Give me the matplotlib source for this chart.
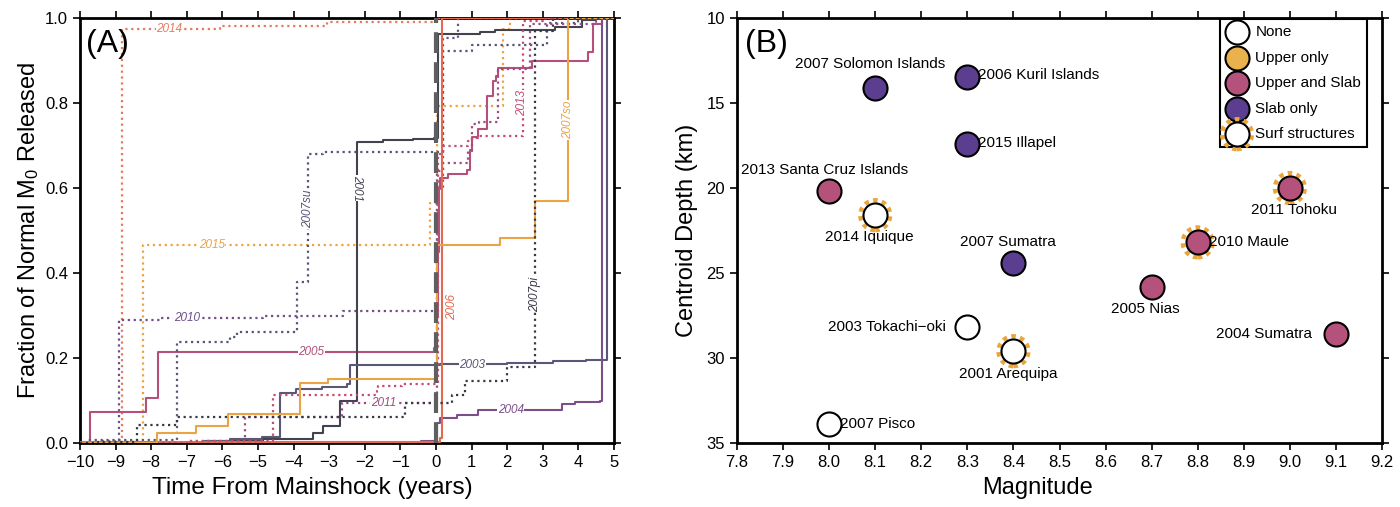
import matplotlib
matplotlib.use("Agg")
import matplotlib.pyplot as plt
from matplotlib.legend_handler import HandlerTuple

plt.rcParams['font.family'] = ['Liberation Sans', 'DejaVu Sans']
plt.rcParams['mathtext.fontset'] = 'custom'
plt.rcParams['mathtext.rm'] = 'Liberation Sans'
plt.rcParams['mathtext.it'] = 'Liberation Sans:italic'

# ---------------- Panel A data: cumulative fraction of normal M0 released ----------------
t_2014 = [-10, -8.83, -6.07, -3.07, 0.02, 5]
v_2014 = [0, 0.975, 0.981, 0.991, 1.0, 1.0]

t_2015 = [-10, -9.6, -8.24, -0.17, 0.02, 1.89, 2.08, 5]
v_2015 = [0, 0.003, 0.465, 0.565, 0.793, 0.973, 1.0, 1.0]

t_2010 = [-10, -9.5, -8.9, -7.75, -4.85, -2.6, 0.02, 0.2, 0.63, 5]
v_2010 = [0, 0.005, 0.29, 0.294, 0.30, 0.311, 0.60, 0.953, 1.0, 1.0]

t_2005 = [-10, -9.72, -8.15, -7.82, -0.05, 0.02, 0.05, 0.08, 0.11, 0.35, 0.86, 0.955,
          1.02, 1.19, 1.42, 1.61, 1.68, 1.73, 2.69, 4.28, 4.42, 4.65, 5]
v_2005 = [0, 0.072, 0.105, 0.213, 0.224, 0.30, 0.45, 0.597, 0.624, 0.634, 0.642, 0.69,
          0.72, 0.738, 0.816, 0.852, 0.864, 0.883, 0.899, 0.919, 0.985, 1.0, 1.0]

t_2007su = [-10, -9.77, -7.28, -5.79, -5.6, -3.91, -3.59, -3.17, 0.21, 1.0, 3.11, 4.0, 5]
v_2007su = [0, 0.008, 0.237, 0.25, 0.261, 0.38, 0.679, 0.684, 0.922, 0.936, 0.989, 1.0, 1.0]

t_2001 = [-10, -6.5, -4.85, -3.45, -3.17, -2.70, -2.23, -1.5, -0.66, -0.07, 0.05, 1.24,
          1.66, 3.34, 4.09, 4.5, 5]
v_2001 = [0, 0.004, 0.01, 0.024, 0.039, 0.10, 0.709, 0.713, 0.716, 0.718, 0.962, 0.967,
          0.972, 0.98, 0.995, 1.0, 1.0]

t_2003 = [-10, -6.5, -5.8, -4.9, -4.38, -3.92, -3.2, -2.5, -2.42, 0.1, 1.99, 3.29, 4.2, 4.79, 5]
v_2003 = [0, 0.005, 0.01, 0.015, 0.118, 0.127, 0.132, 0.14, 0.183, 0.186, 0.188, 0.192,
          0.195, 1.0, 1.0]

t_2011 = [-10, -7, -5.37, -2.65, 0.02, 0.2, 0.9, 1.0, 1.2, 1.75, 2.64, 4.5, 5]
v_2011 = [0, 0.005, 0.061, 0.093, 0.64, 0.66, 0.687, 0.75, 0.755, 0.879, 0.985, 1.0, 1.0]

t_2004 = [-10, -0.42, 0.02, 0.11, 0.58, 1.19, 3.48, 3.53, 3.9, 4.6, 4.65, 5]
v_2004 = [0, 0.005, 0.047, 0.059, 0.067, 0.077, 0.078, 0.092, 0.097, 0.10, 1.0, 1.0]

t_2006 = [-10, 0.11, 0.16, 5]
v_2006 = [0.002, 0.012, 1.0, 1.0]

t_2013 = [-10, -7, -4.57, -1.67, -1.62, -0.96, 0.05, 0.21, 0.91, 1.0, 1.19, 2.45, 3.0, 5]
v_2013 = [0, 0.004, 0.114, 0.122, 0.133, 0.14, 0.679, 0.699, 0.71, 0.718, 0.722, 0.993, 1.0, 1.0]

t_2007so = [-10, -7.85, -6.73, -5.83, -3.82, -3.02, 0.02, 1.8, 2.78, 3.72, 5]
v_2007so = [0, 0.024, 0.041, 0.068, 0.141, 0.151, 0.467, 0.483, 0.569, 1.0, 1.0]

t_2007pi = [-10, -9.5, -8.41, -7.28, -0.87, 0.44, 0.81, 1.99, 2.78, 3.3, 5]
v_2007pi = [0, 0.003, 0.043, 0.061, 0.094, 0.114, 0.145, 0.179, 0.97, 1.0, 1.0]

# name, times, values, colour, linestyle, label x, label y, rotation
series_a = [
    ("2014", t_2014, v_2014, "#e67a5e", ":", -7.5, 0.975, 0),
    ("2015", t_2015, v_2015, "#eea245", ":", -6.3, 0.465, 0),
    ("2010", t_2010, v_2010, "#6e4f88", ":", -7.0, 0.294, 0),
    ("2005", t_2005, v_2005, "#b4507a", "-", -3.5, 0.213, 0),
    ("2007su", t_2007su, v_2007su, "#585676", ":", -3.59, 0.55, 90),
    ("2001", t_2001, v_2001, "#43434f", "-", -2.23, 0.60, -90),
    ("2003", t_2003, v_2003, "#5a5878", "-", 1.02, 0.184, 0),
    ("2011", t_2011, v_2011, "#9c4c84", ":", -1.48, 0.094, 0),
    ("2004", t_2004, v_2004, "#7c4e8c", "-", 2.1, 0.078, 0),
    ("2006", t_2006, v_2006, "#e26a50", "-", 0.44, 0.32, 90),
    ("2013", t_2013, v_2013, "#c24c72", ":", 2.42, 0.80, 90),
    ("2007so", t_2007so, v_2007so, "#eaa445", "-", 3.72, 0.76, 90),
    ("2007pi", t_2007pi, v_2007pi, "#383846", ":", 2.78, 0.35, 90),
]

# ---------------- Panel B data ----------------
events_b = ["2007 Solomon Islands", "2006 Kuril Islands", "2015 Illapel",
            "2013 Santa Cruz Islands", "2014 Iquique", "2011 Tohoku", "2007 Sumatra",
            "2010 Maule", "2005 Nias", "2003 Tokachi\u2212oki", "2001 Arequipa",
            "2004 Sumatra", "2007 Pisco"]
magnitude = [8.1, 8.3, 8.3, 8.0, 8.1, 9.0, 8.4, 8.8, 8.7, 8.3, 8.4, 9.1, 8.0]
depth = [14.1, 13.5, 17.4, 20.2, 21.6, 20.0, 24.4, 23.2, 25.8, 28.2, 29.6, 28.6, 33.9]
category = ["Slab only", "Slab only", "Slab only", "Upper and Slab", "None",
            "Upper and Slab", "Slab only", "Upper and Slab", "Upper and Slab", "None",
            "None", "Upper and Slab", "None"]
surf = [False, False, False, False, True, True, False, True, False, False, True, False, False]
# label anchor (x, y, ha)
label_pos = [(8.088, 12.7, "center"), (8.323, 13.35, "left"), (8.323, 17.35, "left"),
             (7.99, 18.95, "center"), (8.088, 22.9, "center"), (9.009, 21.3, "center"),
             (8.388, 23.2, "center"), (8.824, 23.2, "left"), (8.687, 27.1, "center"),
             (8.253, 28.2, "right"), (8.388, 30.95, "center"), (9.048, 28.6, "right"),
             (8.024, 33.9, "left")]
cat_colors = {"None": "white", "Upper only": "#eab24c", "Upper and Slab": "#b4527c",
              "Slab only": "#5b3e8f"}
surf_color = "#eaa63a"

fig = plt.figure(figsize=(14, 5.07), dpi=100)
axA = fig.add_axes([80/1400, 64/507, 534/1400, 425/507])
axB = fig.add_axes([737/1400, 64/507, 645/1400, 425/507])

# ---------------- Panel A ----------------
for name, t, v, c, ls, lx, ly, rot in series_a:
    lw = 1.5 if ls == "-" else 1.6
    axA.step(t, v, where="post", color=c, linestyle=ls, lw=lw, zorder=3)
    axA.text(lx, ly, name, color=c, fontsize=8.5, style="italic", rotation=rot,
             ha="center", va="center", zorder=6,
             bbox=dict(facecolor="white", edgecolor="none", pad=0.3))
axA.axvline(0, color="#5f5f5f", lw=3, linestyle=(0, (5, 2.2)), zorder=4)

axA.set_xlim(-10, 5)
axA.set_ylim(0, 1.0)
axA.set_xticks(range(-10, 6))
axA.set_yticks([0, 0.2, 0.4, 0.6, 0.8, 1.0])
axA.set_yticklabels(["0.0", "0.2", "0.4", "0.6", "0.8", "1.0"])
axA.set_xlabel("Time From Mainshock (years)", fontsize=17.5)
axA.set_ylabel("Fraction of Normal M$_0$ Released", fontsize=17)
axA.xaxis.set_label_coords((312 - 80) / 534, -0.08)
axA.yaxis.set_label_coords(-0.073, 0.5)
axA.text(0.012, 0.975, "(A)", transform=axA.transAxes, fontsize=23, ha="left", va="top",
         zorder=7)

# ---------------- Panel B ----------------
for i in range(len(events_b)):
    if surf[i]:
        axB.scatter([magnitude[i]], [depth[i]], s=460, facecolors="none",
                    edgecolors=surf_color, linewidths=3.2, linestyles=(0, (1, 1)), zorder=2)
    axB.scatter([magnitude[i]], [depth[i]], s=300, c=cat_colors[category[i]],
                edgecolors="black", linewidths=1.5, zorder=3)
    lx, ly, ha = label_pos[i]
    axB.text(lx, ly, events_b[i], fontsize=11, ha=ha, va="center", zorder=5)

axB.set_xlim(7.8, 9.2)
axB.set_ylim(35, 10)
axB.set_xticks([7.8 + 0.1 * k for k in range(15)])
axB.set_xticklabels([f"{7.8 + 0.1 * k:.1f}" for k in range(15)])
axB.set_yticks([10, 15, 20, 25, 30, 35])
axB.set_xlabel("Magnitude", fontsize=17)
axB.set_ylabel("Centroid Depth (km)", fontsize=17)
axB.xaxis.set_label_coords((1038 - 737) / 645, -0.08)
axB.yaxis.set_label_coords(-0.06, 0.5)
axB.text(0.012, 0.975, "(B)", transform=axB.transAxes, fontsize=23, ha="left", va="top")

handles = []
labels = []
for cat in ["None", "Upper only", "Upper and Slab", "Slab only"]:
    h = axB.scatter([], [], s=300, c=cat_colors[cat], edgecolors="black", linewidths=1.5)
    handles.append(h)
    labels.append(cat)
ring = axB.scatter([], [], s=460, facecolors="none", edgecolors=surf_color,
                   linewidths=3.2, linestyles=(0, (1, 1)))
core = axB.scatter([], [], s=300, c="white", edgecolors="black", linewidths=1.5)
handles.append((ring, core))
labels.append("Surf structures")
leg = axB.legend(handles, labels, loc="upper right", bbox_to_anchor=(0.977, 0.997),
                 borderaxespad=0, fontsize=11, scatterpoints=1, fancybox=False,
                 framealpha=1, edgecolor="black", handletextpad=0.5, labelspacing=0.75,
                 handlelength=1.4, borderpad=0.4,
                 handler_map={tuple: HandlerTuple(ndivide=1, pad=0)})
leg.get_frame().set_linewidth(1.5)

for ax in (axA, axB):
    for sp in ax.spines.values():
        sp.set_linewidth(2)
    ax.tick_params(direction="out", length=5, width=1.2, labelsize=12,
                   top=True, right=True, labeltop=False, labelright=False)

fig.savefig("out.png", dpi=100)
